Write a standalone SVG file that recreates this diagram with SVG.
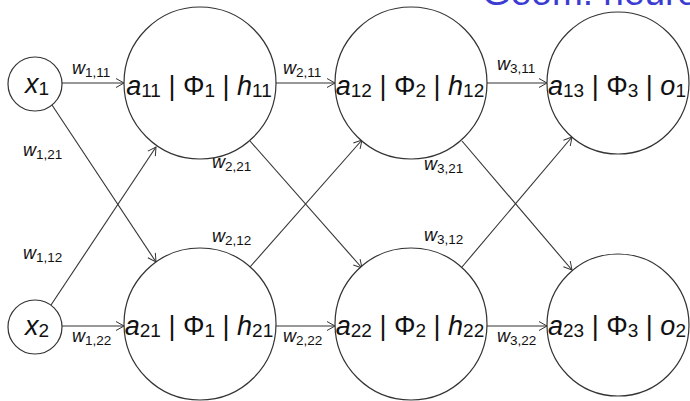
<svg xmlns="http://www.w3.org/2000/svg" width="690" height="401" viewBox="0 0 690 401">
<defs>
<style>
.n{fill:#fff;stroke:#333;stroke-width:1.2}
.e{stroke:#333;stroke-width:1.1;fill:none;marker-end:url(#ah)}
.nt{font-family:"Liberation Sans",Arial,sans-serif;font-size:27px;fill:#111}
.lt{font-family:"Liberation Sans",Arial,sans-serif;font-size:18px;fill:#111}
.i{font-style:italic}
.s{font-size:19px}
.ls{font-size:13.5px}
.title{font-family:"Liberation Sans",Arial,sans-serif;font-size:37px;fill:#3c3cd2}
</style>
<marker id="ah" markerUnits="userSpaceOnUse" markerWidth="12" markerHeight="12" viewBox="0 0 12 12" refX="10" refY="6" orient="auto">
<path d="M2,1.5 L10,6 L2,10.5" fill="none" stroke="#333" stroke-width="1"/>
</marker>
</defs>
<text class="title" x="482" y="5">Geom. neuronales Netz</text>
<g id="connectors">
<line class="e" x1="62" y1="83" x2="124" y2="83"/>
<line class="e" x1="52" y1="105" x2="156" y2="262"/>
<line class="e" x1="51" y1="305" x2="156" y2="147"/>
<line class="e" x1="62" y1="326" x2="124" y2="326"/>
<line class="e" x1="276" y1="83" x2="335" y2="83"/>
<line class="e" x1="250" y1="141" x2="362" y2="268"/>
<line class="e" x1="250" y1="267" x2="362" y2="140"/>
<line class="e" x1="276" y1="326" x2="335" y2="326"/>
<line class="e" x1="487" y1="83" x2="547" y2="83"/>
<line class="e" x1="462" y1="141" x2="572" y2="270"/>
<line class="e" x1="462" y1="267" x2="572" y2="137"/>
<line class="e" x1="487" y1="326" x2="547" y2="326"/>
<text class="lt" x="72" y="74"><tspan class="i">w</tspan><tspan class="ls" dy="3">1,11</tspan></text>
<text class="lt" x="23" y="156"><tspan class="i">w</tspan><tspan class="ls" dy="3">1,21</tspan></text>
<text class="lt" x="23" y="259"><tspan class="i">w</tspan><tspan class="ls" dy="3">1,12</tspan></text>
<text class="lt" x="72" y="342"><tspan class="i">w</tspan><tspan class="ls" dy="3">1,22</tspan></text>
<text class="lt" x="283" y="74"><tspan class="i">w</tspan><tspan class="ls" dy="3">2,11</tspan></text>
<text class="lt" x="212" y="168"><tspan class="i">w</tspan><tspan class="ls" dy="3">2,21</tspan></text>
<text class="lt" x="212" y="242"><tspan class="i">w</tspan><tspan class="ls" dy="3">2,12</tspan></text>
<text class="lt" x="283" y="342"><tspan class="i">w</tspan><tspan class="ls" dy="3">2,22</tspan></text>
<text class="lt" x="497" y="70"><tspan class="i">w</tspan><tspan class="ls" dy="3">3,11</tspan></text>
<text class="lt" x="424" y="170"><tspan class="i">w</tspan><tspan class="ls" dy="3">3,21</tspan></text>
<text class="lt" x="424" y="241"><tspan class="i">w</tspan><tspan class="ls" dy="3">3,12</tspan></text>
<text class="lt" x="497" y="342"><tspan class="i">w</tspan><tspan class="ls" dy="3">3,22</tspan></text>
</g>
<g id="x1">
<circle class="n" cx="35" cy="84" r="27"/>
<text class="nt" x="37" y="93" text-anchor="middle"><tspan class="i">x</tspan><tspan class="s" dy="2">1</tspan></text>
</g>
<g id="x2">
<circle class="n" cx="35" cy="327" r="27"/>
<text class="nt" x="37" y="335" text-anchor="middle"><tspan class="i">x</tspan><tspan class="s" dy="2">2</tspan></text>
</g>
<g id="a11">
<circle class="n" cx="200" cy="83" r="76"/>
<text class="nt" x="199" y="95" text-anchor="middle"><tspan class="i">a</tspan><tspan class="s" dy="2">11</tspan><tspan dy="-2"> | Φ</tspan><tspan class="s" dy="2">1</tspan><tspan dy="-2"> | </tspan><tspan class="i">h</tspan><tspan class="s" dy="2">11</tspan></text>
</g>
<g id="a21">
<circle class="n" cx="200" cy="324" r="76"/>
<text class="nt" x="199" y="335" text-anchor="middle"><tspan class="i">a</tspan><tspan class="s" dy="2">21</tspan><tspan dy="-2"> | Φ</tspan><tspan class="s" dy="2">1</tspan><tspan dy="-2"> | </tspan><tspan class="i">h</tspan><tspan class="s" dy="2">21</tspan></text>
</g>
<g id="a12">
<circle class="n" cx="411" cy="83" r="76"/>
<text class="nt" x="410" y="95" text-anchor="middle"><tspan class="i">a</tspan><tspan class="s" dy="2">12</tspan><tspan dy="-2"> | Φ</tspan><tspan class="s" dy="2">2</tspan><tspan dy="-2"> | </tspan><tspan class="i">h</tspan><tspan class="s" dy="2">12</tspan></text>
</g>
<g id="a22">
<circle class="n" cx="411" cy="324" r="76"/>
<text class="nt" x="410" y="335" text-anchor="middle"><tspan class="i">a</tspan><tspan class="s" dy="2">22</tspan><tspan dy="-2"> | Φ</tspan><tspan class="s" dy="2">2</tspan><tspan dy="-2"> | </tspan><tspan class="i">h</tspan><tspan class="s" dy="2">22</tspan></text>
</g>
<g id="a13">
<circle class="n" cx="618" cy="83" r="71"/>
<text class="nt" x="617" y="95" text-anchor="middle"><tspan class="i">a</tspan><tspan class="s" dy="2">13</tspan><tspan dy="-2"> | Φ</tspan><tspan class="s" dy="2">3</tspan><tspan dy="-2"> | </tspan><tspan class="i">o</tspan><tspan class="s" dy="2">1</tspan></text>
</g>
<g id="a23">
<circle class="n" cx="618" cy="325" r="71"/>
<text class="nt" x="617" y="335" text-anchor="middle"><tspan class="i">a</tspan><tspan class="s" dy="2">23</tspan><tspan dy="-2"> | Φ</tspan><tspan class="s" dy="2">3</tspan><tspan dy="-2"> | </tspan><tspan class="i">o</tspan><tspan class="s" dy="2">2</tspan></text>
</g>
</svg>
